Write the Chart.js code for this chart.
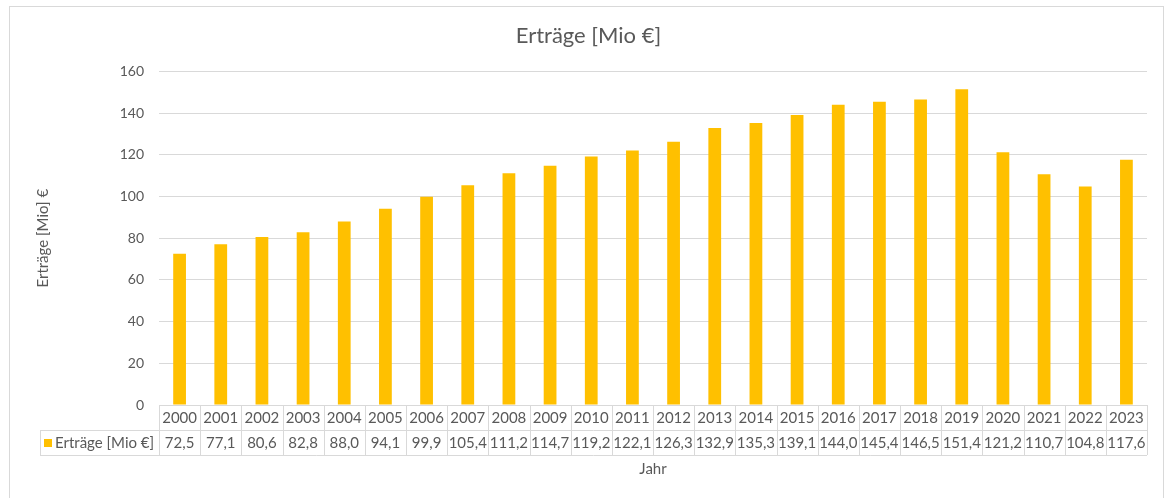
<!DOCTYPE html>
<html>
<head>
<meta charset="utf-8">
<script src="https://cdn.jsdelivr.net/npm/chart.js@4"></script>
<style>
  html, body { margin: 0; padding: 0; background: #fff; }
  #wrap { width: 1171px; height: 498px; }
</style>
</head>
<body>
<div id="wrap"><canvas id="myChart" width="1171" height="498"></canvas></div>
<script>
var jahre = ['2000','2001','2002','2003','2004','2005','2006','2007','2008','2009','2010','2011',
             '2012','2013','2014','2015','2016','2017','2018','2019','2020','2021','2022','2023'];
var ertraege = [72.5, 77.1, 80.6, 82.8, 88.0, 94.1, 99.9, 105.4, 111.2, 114.7, 119.2, 122.1,
                126.3, 132.9, 135.3, 139.1, 144.0, 145.4, 146.5, 151.4, 121.2, 110.7, 104.8, 117.6];
var serienName = 'Erträge [Mio €]';
var textFarbe = '#595959';
var linienFarbe = '#d9d9d9';
var schrift = 'Lato, "Open Sans", sans-serif';

// Datentabelle unter dem Diagramm (wie in Excel)
var tabellePlugin = {
  id: 'tabelle',
  beforeDraw: function (chart) {
    var c = chart.ctx;
    c.save();
    c.strokeStyle = '#d9d9d9';
    c.lineWidth = 1;
    c.strokeRect(9.5, 6.5, 1154, 500);
    c.restore();
  },
  afterDraw: function (chart) {
    var c = chart.ctx;
    var x = chart.scales.x;
    var area = chart.chartArea;
    var top = area.bottom, mid = top + 25, bot = top + 50;
    var links = area.left, rechts = area.right, legLinks = 40;
    var breite = (rechts - links) / jahre.length;
    c.save();
    c.strokeStyle = linienFarbe;
    c.lineWidth = 1;
    c.beginPath();
    c.moveTo(links, top + 0.5); c.lineTo(rechts, top + 0.5);
    c.moveTo(legLinks, mid + 0.5); c.lineTo(rechts, mid + 0.5);
    c.moveTo(legLinks, bot + 0.5); c.lineTo(rechts, bot + 0.5);
    c.moveTo(legLinks + 0.5, mid); c.lineTo(legLinks + 0.5, bot);
    for (var i = 0; i <= jahre.length; i++) {
      var px = Math.round(links + i * breite) + 0.5;
      c.moveTo(px, top); c.lineTo(px, bot);
    }
    c.stroke();

    c.fillStyle = textFarbe;
    c.font = '15px ' + schrift;
    c.textAlign = 'center';
    c.textBaseline = 'middle';
    for (var j = 0; j < jahre.length; j++) {
      var cx = x.getPixelForValue(j);
      c.fillText(jahre[j], cx, top + 13);
      c.fillText(ertraege[j].toFixed(1).replace('.', ','), cx, mid + 13);
    }
    // Legendenfeld
    c.fillStyle = '#ffc000';
    c.fillRect(44, mid + 9, 8, 8);
    c.fillStyle = textFarbe;
    c.textAlign = 'left';
    c.fillText(serienName, 55, mid + 13);
    // Achsentitel x
    c.textAlign = 'center';
    c.font = '15px ' + schrift;
    c.fillText('Jahr', (area.left + area.right) / 2, bot + 14);
    c.restore();
  }
};

var ctx = document.getElementById('myChart').getContext('2d');
var chart = new Chart(ctx, {
  type: 'bar',
  data: {
    labels: jahre,
    datasets: [{
      label: serienName,
      data: ertraege,
      backgroundColor: '#ffc000',
      categoryPercentage: 1.0,
      barPercentage: 0.31
    }]
  },
  options: {
    responsive: false,
    animation: false,
    layout: { padding: { left: 30, right: 24, top: 0, bottom: 93 } },
    plugins: {
      legend: { display: false },
      tooltip: { enabled: false },
      title: {
        display: true,
        text: 'Erträge [Mio €]',
        color: textFarbe,
        font: { family: schrift, size: 22, weight: 'normal' },
        padding: { top: 23, bottom: 22 }
      }
    },
    scales: {
      x: { display: false },
      y: {
        min: 0, max: 160,
        ticks: { stepSize: 20, color: textFarbe, padding: 15, font: { family: schrift, size: 14 } },
        grid: { color: linienFarbe, drawTicks: false },
        border: { display: false },
        title: {
          display: true,
          text: 'Erträge [Mio] €',
          color: textFarbe,
          font: { family: schrift, size: 15 }
        },
        afterFit: function (scale) { scale.width = 129; }
      }
    }
  },
  plugins: [tabellePlugin]
});
</script>
</body>
</html>
